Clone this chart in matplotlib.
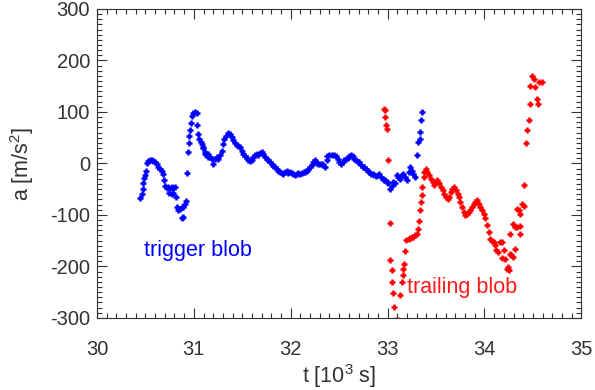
import numpy as np
import matplotlib
matplotlib.use("Agg")
import matplotlib.pyplot as plt
from matplotlib.ticker import MultipleLocator

plt.rcParams['font.family'] = ['Liberation Sans', 'DejaVu Sans']
plt.rcParams['mathtext.default'] = 'regular'
plt.rcParams['axes.unicode_minus'] = False

# trigger blob (blue), t in 10^3 s, a in m/s^2
t_trigger = [30.444, 30.462, 30.472, 30.478, 30.486, 30.493, 30.503, 30.513, 30.530, 30.548,
             30.565, 30.582, 30.599, 30.617, 30.633, 30.651, 30.668, 30.685, 30.695, 30.702,
             30.720, 30.737, 30.747, 30.754, 30.772, 30.772, 30.788, 30.788, 30.806, 30.816,
             30.823, 30.840, 30.857, 30.875, 30.875, 30.885, 30.891, 30.909, 30.919, 30.927,
             30.937, 30.947, 30.953, 30.961, 30.971, 30.981, 30.995, 31.012, 31.030, 31.036,
             31.046, 31.057, 31.071, 31.082, 31.098, 31.098, 31.116, 31.116, 31.133, 31.150,
             31.150, 31.167, 31.185, 31.201, 31.219, 31.236, 31.253, 31.271, 31.288, 31.305,
             31.315, 31.333, 31.356, 31.374, 31.391, 31.408, 31.426, 31.443, 31.460, 31.477,
             31.495, 31.511, 31.529, 31.546, 31.563, 31.581, 31.598, 31.615, 31.632, 31.650,
             31.666, 31.684, 31.701, 31.718, 31.735, 31.753, 31.770, 31.787, 31.805, 31.821,
             31.839, 31.856, 31.873, 31.890, 31.908, 31.925, 31.942, 31.960, 31.976, 31.994,
             32.011, 32.028, 32.046, 32.063, 32.080, 32.097, 32.115, 32.132, 32.149, 32.167,
             32.183, 32.200, 32.218, 32.234, 32.252, 32.269, 32.286, 32.304, 32.321, 32.338,
             32.355, 32.373, 32.379, 32.397, 32.424, 32.451, 32.469, 32.486, 32.503, 32.520,
             32.538, 32.555, 32.572, 32.590, 32.606, 32.624, 32.642, 32.658, 32.675, 32.693,
             32.710, 32.727, 32.745, 32.761, 32.779, 32.796, 32.813, 32.830, 32.848, 32.864,
             32.882, 32.900, 32.916, 32.934, 32.951, 32.968, 32.975, 32.993, 33.009, 33.027,
             33.044, 33.061, 33.078, 33.096, 33.112, 33.130, 33.147, 33.164, 33.182, 33.199,
             33.216, 33.233, 33.251, 33.267, 33.285, 33.303, 33.319, 33.330, 33.337, 33.344,
             33.354]
a_trigger = [-68, -59, -49, -39, -29, -23, -14, 0, 4, 6,
             6, 4, 2, -2, -7, -10, -15, -21, -33, -43,
             -47, -45, -58, -47, -45, -60, -47, -58, -45, -65,
             -85, -91, -88, -85, -107, -104, -84, -78, -73, -19,
             22, 40, 54, 64, 78, 93, 98, 100, 98, 74,
             58, 48, 41, 37, 29, 32, 22, 19, 16, 12,
             19, 12, 9, -1, 9, 12, 9, 16, 25, 38,
             48, 54, 60, 58, 52, 46, 39, 35, 33, 32,
             25, 19, 14, 11, 7, 4, 7, 12, 17, 19,
             16, 20, 22, 19, 12, 9, 6, 3, -2, -5,
             -7, -10, -14, -17, -19, -21, -17, -15, -19, -16,
             -19, -20, -22, -20, -19, -20, -19, -17, -17, -14,
             -10, -7, -4, 3, 6, 1, -1, -1, -1, -4,
             -7, 6, 14, 17, 17, 17, 14, 9, 3, -1,
             3, 7, 9, 11, 14, 17, 14, 9, 6, 3,
             3, -4, -7, -7, -10, -14, -17, -20, -20, -23,
             -25, -23, -20, -27, -30, -33, -33, -37, -39, -49,
             -43, -37, -39, -23, -27, -30, -23, -20, -27, -33,
             -17, -7, -14, -20, -27, 16, 41, 48, 61, 84,
             100]

# trailing blob (red)
t_trailing = [32.958, 32.975, 32.975, 32.985, 32.993, 33.009, 33.020, 33.027, 33.044, 33.050,
              33.061, 33.071, 33.089, 33.112, 33.130, 33.147, 33.157, 33.164, 33.171, 33.182,
              33.192, 33.216, 33.233, 33.251, 33.267, 33.285, 33.303, 33.313, 33.326, 33.337,
              33.344, 33.354, 33.360, 33.371, 33.381, 33.395, 33.412, 33.430, 33.447, 33.464,
              33.481, 33.499, 33.515, 33.533, 33.550, 33.567, 33.584, 33.602, 33.619, 33.636,
              33.654, 33.670, 33.688, 33.705, 33.722, 33.739, 33.750, 33.767, 33.784, 33.801,
              33.819, 33.836, 33.853, 33.871, 33.887, 33.905, 33.922, 33.939, 33.956, 33.974,
              33.991, 34.008, 34.026, 34.042, 34.060, 34.077, 34.094, 34.111, 34.122, 34.145,
              34.163, 34.180, 34.186, 34.197, 34.215, 34.232, 34.243, 34.249, 34.259, 34.266,
              34.274, 34.294, 34.294, 34.311, 34.311, 34.335, 34.335, 34.352, 34.363, 34.370,
              34.370, 34.387, 34.404, 34.411, 34.425, 34.439, 34.456, 34.466, 34.473, 34.490,
              34.507, 34.524, 34.542, 34.548, 34.559, 34.594]
a_trailing = [106, 103, 90, 74, 67, 6, -116, -187, -208, -230,
              -252, -278, -305, -305, -256, -230, -217, -205, -195, -170,
              -148, -146, -144, -143, -142, -140, -137, -127, -111, -90,
              -75, -62, -45, -27, -17, -10, -17, -23, -30, -37,
              -41, -37, -32, -39, -46, -52, -59, -65, -69, -65,
              -56, -49, -46, -52, -59, -65, -75, -85, -95, -101,
              -98, -95, -91, -85, -78, -75, -72, -78, -85, -91,
              -98, -107, -120, -133, -146, -150, -153, -159, -169, -172,
              -153, -153, -183, -169, -186, -205, -201, -208, -175, -137,
              -178, -182, -118, -166, -124, -124, -88, -91, -122, -137,
              -99, -78, -83, -41, 39, 65, 84, 116, 150, 169,
              164, 148, 125, 116, 158, 158]

fig = plt.figure(figsize=(5.95, 3.9), dpi=100)
ax = fig.add_axes([0.163, 0.185, 0.814, 0.792])

ax.plot(t_trigger, a_trigger, linestyle='none', marker='+', color='#0000ff',
        markersize=5, markeredgewidth=1.8)
ax.plot(t_trailing, a_trailing, linestyle='none', marker='+', color='#ff0000',
        markersize=5, markeredgewidth=1.8)

ax.text(30.49, -169, 'trigger blob', color='#0000ff', fontsize=15.5, va='center')
ax.text(33.20, -241, 'trailing blob', color='#ff1a1a', fontsize=15.5, va='center')

ax.set_xlim(30, 35)
ax.set_ylim(-300, 300)
ax.xaxis.set_major_locator(MultipleLocator(1))
ax.xaxis.set_minor_locator(MultipleLocator(0.1))
ax.yaxis.set_major_locator(MultipleLocator(100))
ax.yaxis.set_minor_locator(MultipleLocator(10))
ax.tick_params(which='both', direction='in', top=True, right=True, colors='#333333',
               labelsize=14.5, width=0.8)
ax.tick_params(which='major', length=7)
ax.tick_params(which='minor', length=3.5)
ax.tick_params(axis='x', which='major', pad=16)
ax.tick_params(axis='y', which='major', pad=5)
for s in ax.spines.values():
    s.set_color('#333333')
    s.set_linewidth(0.8)

ax.set_xlabel('t [10$^3$ s]', fontsize=15.5, color='#333333', labelpad=2)
ax.set_ylabel('a [m/s$^2$]', fontsize=15.5, color='#333333', labelpad=10)

fig.savefig('out.png', dpi=100)
